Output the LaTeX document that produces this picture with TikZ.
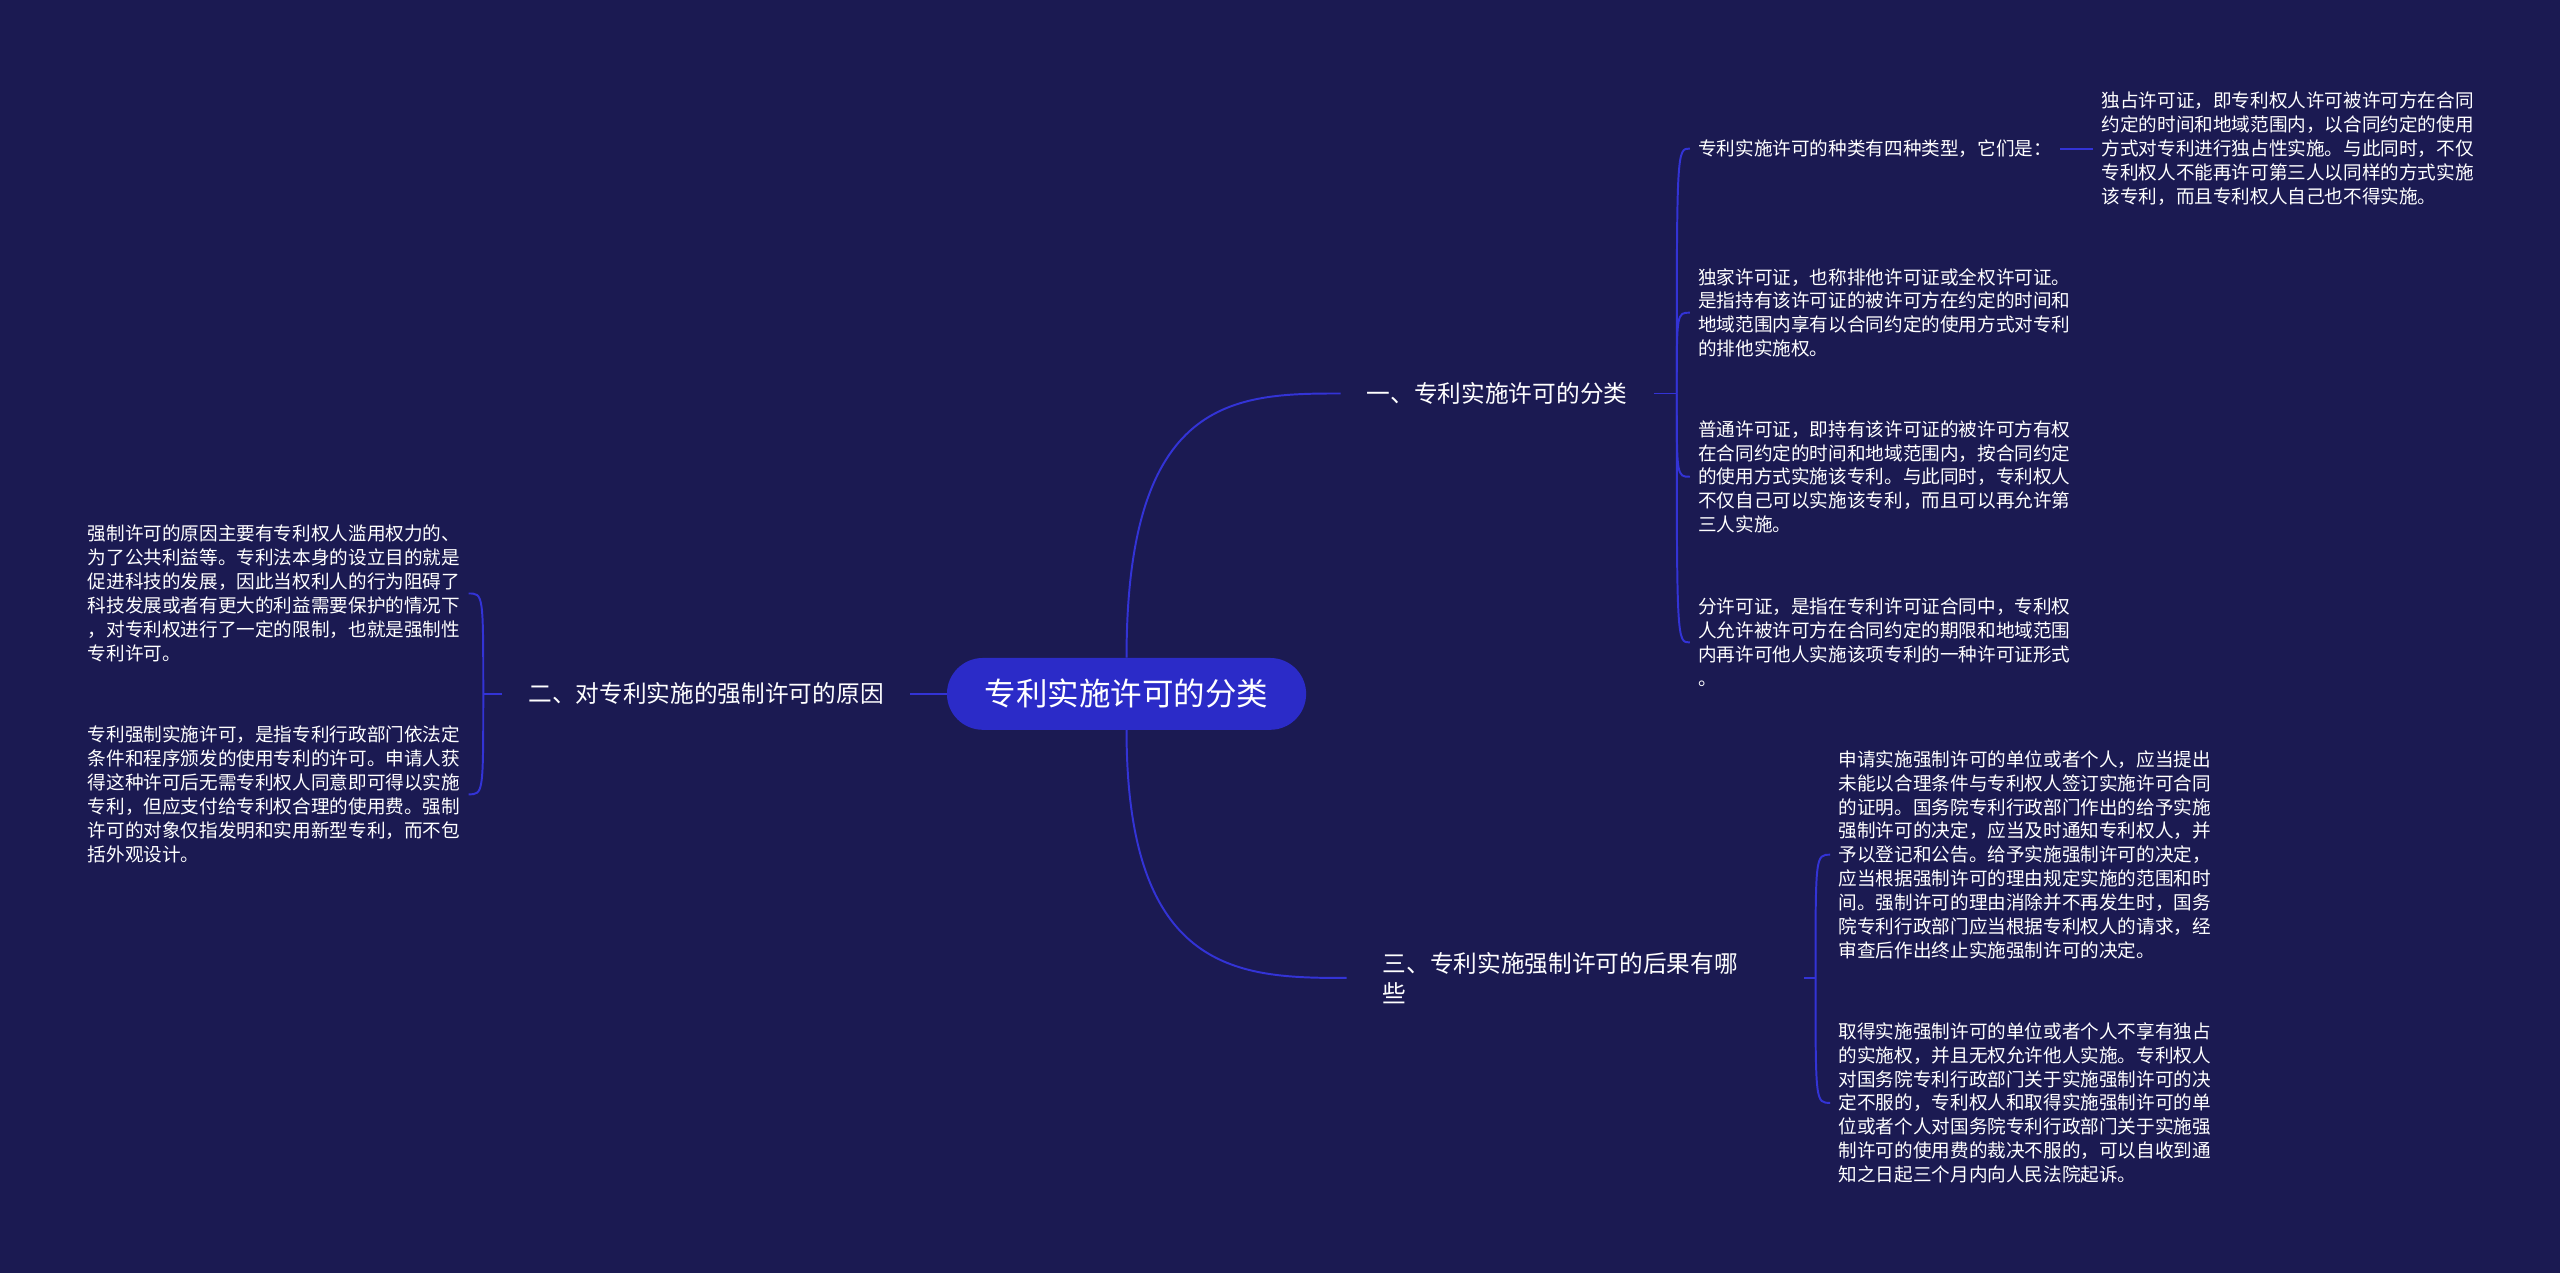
\documentclass[tikz,border=0pt]{standalone}
\usepackage{fontspec}
\setmainfont{Noto Sans CJK SC}
\definecolor{bgblue}{HTML}{1B1A52}
\definecolor{rootblue}{HTML}{2B2BC8}
\definecolor{lineblue}{HTML}{3333D6}
\newcommand\leaffont{\fontsize{11.4pt}{14.6pt}\selectfont}
\newcommand\branchfont{\fontsize{14.5pt}{18pt}\selectfont}

\begin{document}
\begin{tikzpicture}
  [x=1pt,y=-1pt,every node/.style={text=white},
   rootnode/.style={fill=rootblue,rounded corners=22pt,minimum width=220pt,minimum height=44pt,
     font=\fontsize{19.3pt}{22pt}\selectfont},
   branch/.style={inner xsep=16pt,font=\branchfont,align=left},
   leaf/.style={inner xsep=5pt,inner ysep=2pt,font=\leaffont,align=left},
   link/.style={draw=lineblue,line width=1.2pt}]
  \fill[bgblue] (0,0) rectangle (1568,780);
  \useasboundingbox (0,0) rectangle (1568,780);

  \node[rootnode] (root) at (690,425) {专利实施许可的分类};
  \node[branch] (ba) at (917,241) {一、专利实施许可的分类};
  \node[branch] (bb) at (432.5,425) {二、对专利实施的强制许可的原因};
  \node[branch,text width=236pt,inner xsep=22pt] (bc) at (965,599) {三、专利实施强制许可的后果有哪\\些};

  \coordinate (ta) at (1027,241);
  \coordinate (tb) at (296,425);
  \coordinate (tc) at (1112,599);

  \node[leaf,anchor=west] (la) at (1035,91) {专利实施许可的种类有四种类型，它们是：};
  \node[leaf,anchor=west] (laa) at (1282,91) {独占许可证，即专利权人许可被许可方在合同\\
    约定的时间和地域范围内，以合同约定的使用\\方式对专利进行独占性实施。与此同时，不仅\\
    专利权人不能再许可第三人以同样的方式实施\\该专利，而且专利权人自己也不得实施。};
  \node[leaf,anchor=west] (lb) at (1035,191.5) {独家许可证，也称排他许可证或全权许可证。\\
    是指持有该许可证的被许可方在约定的时间和\\地域范围内享有以合同约定的使用方式对专利\\
    的排他实施权。};
  \node[leaf,anchor=west] (lc) at (1035,292) {普通许可证，即持有该许可证的被许可方有权\\
    在合同约定的时间和地域范围内，按合同约定\\的使用方式实施该专利。与此同时，专利权人\\
    不仅自己可以实施该专利，而且可以再允许第\\三人实施。};
  \node[leaf,anchor=west] (ld) at (1035,393.5) {分许可证，是指在专利许可证合同中，专利权\\
    人允许被许可方在合同约定的期限和地域范围\\内再许可他人实施该项专利的一种许可证形式\\。};

  \node[leaf,anchor=east] (lla) at (287,363.5) {强制许可的原因主要有专利权人滥用权力的、\\
    为了公共利益等。专利法本身的设立目的就是\\促进科技的发展，因此当权利人的行为阻碍了\\
    科技发展或者有更大的利益需要保护的情况下\\，对专利权进行了一定的限制，也就是强制性\\
    专利许可。};
  \node[leaf,anchor=east] (llb) at (287,486.5) {专利强制实施许可，是指专利行政部门依法定\\
    条件和程序颁发的使用专利的许可。申请人获\\得这种许可后无需专利权人同意即可得以实施\\
    专利，但应支付给专利权合理的使用费。强制\\许可的对象仅指发明和实用新型专利，而不包\\
    括外观设计。};

  \node[leaf,anchor=west] (ra) at (1121,523.5) {申请实施强制许可的单位或者个人，应当提出\\
    未能以合理条件与专利权人签订实施许可合同\\的证明。国务院专利行政部门作出的给予实施\\
    强制许可的决定，应当及时通知专利权人，并\\予以登记和公告。给予实施强制许可的决定，\\
    应当根据强制许可的理由规定实施的范围和时\\间。强制许可的理由消除并不再发生时，国务\\
    院专利行政部门应当根据专利权人的请求，经\\审查后作出终止实施强制许可的决定。};
  \node[leaf,anchor=west] (rb) at (1121,675.5) {取得实施强制许可的单位或者个人不享有独占\\
    的实施权，并且无权允许他人实施。专利权人\\对国务院专利行政部门关于实施强制许可的决\\
    定不服的，专利权人和取得实施强制许可的单\\位或者个人对国务院专利行政部门关于实施强\\
    制许可的使用费的裁决不服的，可以自收到通\\知之日起三个月内向人民法院起诉。};

  % root to branches
  \draw[link] (root.north) to[out=90,in=180,out distance=160pt,in distance=65pt] (ba.west);
  \draw[link] (root.south) to[out=-90,in=180,out distance=150pt,in distance=65pt] (bc.west);
  \draw[link] (root.west) -- (bb.east);

  % branches to leaves
  \draw[link] (ba.east) -- (ta);
  \draw[link] (bb.west) -- (tb);
  \draw[link] (bc.east) -- (tc);
  \foreach \from/\to/\side in {ta/la/west,ta/lb/west,ta/lc/west,ta/ld/west,
      tb/lla/east,tb/llb/east,tc/ra/west,tc/rb/west}
    \draw[link] (\from) .. controls (\from |- \to.\side) .. (\to.\side);
  \draw[link] (la.east) -- (laa.west);
\end{tikzpicture}
\end{document}
